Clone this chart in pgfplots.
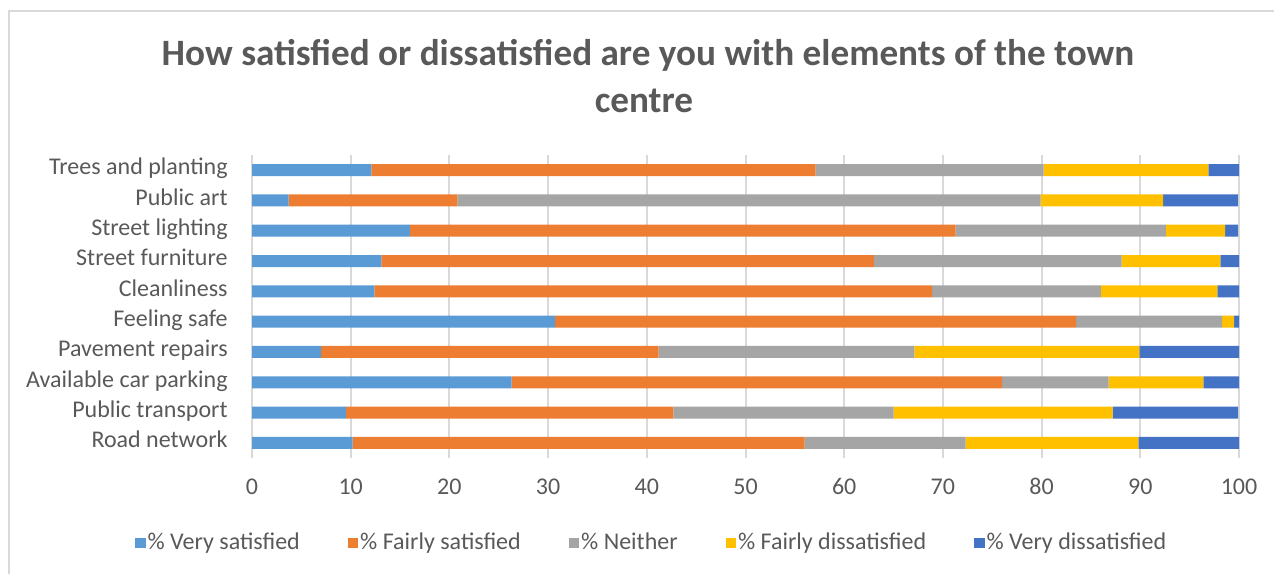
\documentclass[border=0pt]{standalone}
\usepackage{fontspec}
\setmainfont{Carlito}
\usepackage{pgfplots}
\pgfplotsset{compat=1.18}
\usepackage{pgfplotstable}
\definecolor{cvs}{HTML}{5B9BD5}
\definecolor{cfs}{HTML}{ED7D31}
\definecolor{cne}{HTML}{A5A5A5}
\definecolor{cfd}{HTML}{FFC000}
\definecolor{cvd}{HTML}{4472C4}
\definecolor{txt}{HTML}{595959}
\definecolor{gridc}{HTML}{D9D9D9}

\pgfplotstableread{
y vs fs ne fd vd
0 10.2 45.8 16.3 17.5 10.2
1 9.5 33.2 22.3 22.2 12.7
2 26.3 49.7 10.8 9.6 3.6
3 7.0 34.2 25.9 22.8 10.1
4 30.7 52.8 14.8 1.2 0.5
5 12.4 56.5 17.1 11.8 2.4
6 13.1 49.9 25.1 10.0 1.9
7 16.0 55.3 21.3 6.0 1.3
8 3.7 17.1 59.1 12.4 7.6
9 12.1 45.0 23.1 16.7 3.1
}\datatable

\begin{document}
\begin{tikzpicture}
\useasboundingbox (0,0) rectangle (637pt,287pt);
\draw[gridc, line width=1pt] (4.25pt,0pt) -- (4.25pt,281.25pt) -- (637pt,281.25pt);
\begin{axis}[
  at={(126pt,58pt)}, anchor=south west,
  scale only axis, width=493.5pt, height=151.5pt,
  xbar stacked, bar width=6pt,
  xmin=0, xmax=100, ymin=-0.5, ymax=9.5,
  ytick={0,...,9},
  yticklabels={Road network,Public transport,Available car parking,Pavement repairs,Feeling safe,Cleanliness,Street furniture,Street lighting,Public art,Trees and planting},
  xtick={0,10,...,100},
  xmajorgrids, major grid style={draw=gridc, line width=1pt},
  axis line style={draw=none},
  major tick length=0pt,
  tick label style={font=\fontsize{12pt}{14pt}\selectfont, text=txt},
  /pgf/number format/assume math mode=true,
  yticklabel style={anchor=mid east, inner sep=0pt, xshift=-12pt},
  xticklabel style={anchor=base, inner sep=0pt, yshift=-18pt},
  legend columns=5,
  legend style={at={(0.405,-0.2805)}, anchor=center, draw=none, fill=none,
    font=\fontsize{12pt}{14pt}\selectfont, text=txt,
    nodes={inner sep=1pt},
    /tikz/every even column/.append style={column sep=23pt}},
  legend image code/.code={\fill[#1] (0pt,-2.6pt) rectangle (5.2pt,2.6pt);},
]
\addplot[fill=cvs, draw=none] table[x=vs, y=y] {\datatable};
\addplot[fill=cfs, draw=none] table[x=fs, y=y] {\datatable};
\addplot[fill=cne, draw=none] table[x=ne, y=y] {\datatable};
\addplot[fill=cfd, draw=none] table[x=fd, y=y] {\datatable};
\addplot[fill=cvd, draw=none] table[x=vd, y=y] {\datatable};
\legend{\% Very satisfied,\% Fairly satisfied,\% Neither,\% Fairly dissatisfied,\% Very dissatisfied}
\end{axis}
\node[anchor=base, font=\fontsize{18.6pt}{22pt}\selectfont\bfseries, text=txt, inner sep=0pt] at (324pt,254pt) {How satisfied or dissatisfied are you with elements of the town};
\node[anchor=base, font=\fontsize{18.6pt}{22pt}\selectfont\bfseries, text=txt, inner sep=0pt] at (322pt,230.5pt) {centre};
\end{tikzpicture}
\end{document}
